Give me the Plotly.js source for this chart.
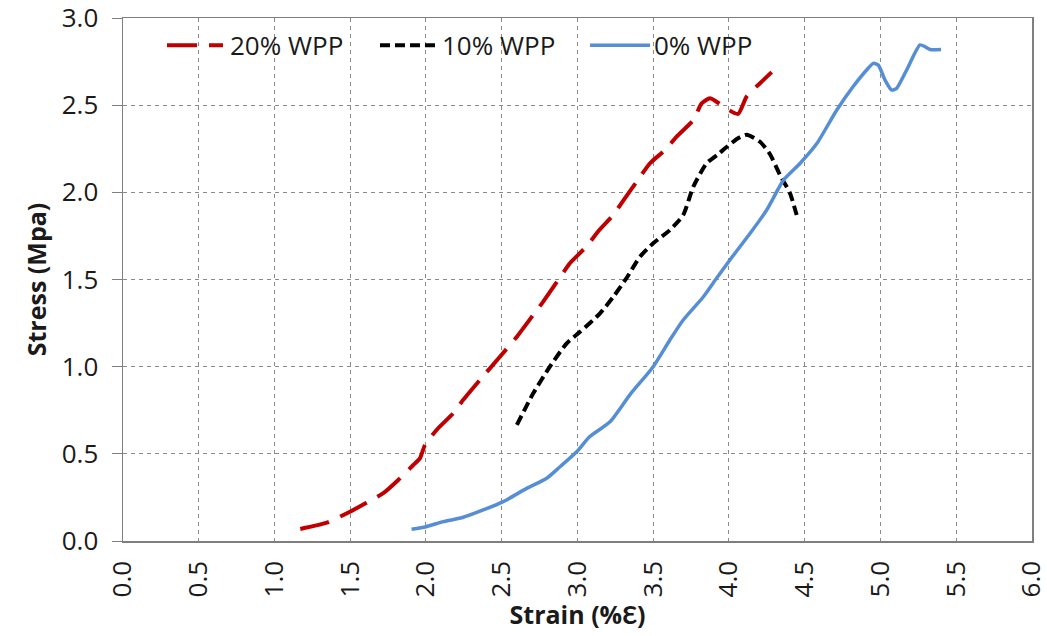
<!DOCTYPE html>
<html>
<head>
<meta charset="utf-8">
<script src="https://cdn.plot.ly/plotly-3.0.1.min.js"></script>
<style>html,body{margin:0;padding:0;background:#fff;}#chart{width:1047px;height:636px;}</style>
</head>
<body>
<div id="chart"></div>
<script>
// Series names
const seriesNames = ["20% WPP", "10% WPP", "0% WPP"];

// 20% WPP (red, long dash)
const strain20 = [1.17, 1.345, 1.498, 1.608, 1.718, 1.817, 1.916, 1.96, 1.993, 2.07, 2.18, 2.246, 2.356, 2.488, 2.6, 2.708, 2.774, 2.873, 2.95, 3.06, 3.14, 3.236, 3.30, 3.39, 3.479, 3.578, 3.655, 3.765, 3.82, 3.875, 3.918, 3.985, 4.06, 4.117, 4.205, 4.282];
const stress20 = [0.069, 0.105, 0.168, 0.22, 0.274, 0.35, 0.436, 0.474, 0.55, 0.637, 0.733, 0.81, 0.924, 1.057, 1.172, 1.297, 1.373, 1.497, 1.593, 1.69, 1.78, 1.87, 1.95, 2.06, 2.167, 2.243, 2.32, 2.415, 2.51, 2.54, 2.52, 2.48, 2.45, 2.55, 2.626, 2.69];

// 10% WPP (black, short dash)
const strain10 = [2.6, 2.708, 2.818, 2.929, 3.017, 3.149, 3.236, 3.325, 3.413, 3.5, 3.61, 3.698, 3.765, 3.853, 3.93, 3.985, 4.06, 4.117, 4.205, 4.27, 4.337, 4.403, 4.447];
const stress10 = [0.666, 0.847, 1.0, 1.134, 1.2, 1.306, 1.4, 1.51, 1.631, 1.708, 1.784, 1.87, 2.033, 2.167, 2.22, 2.26, 2.31, 2.33, 2.29, 2.22, 2.1, 1.995, 1.87];

// 0% WPP (blue, solid)
const strain0 = [1.905, 2.0, 2.115, 2.246, 2.378, 2.51, 2.665, 2.797, 2.885, 2.995, 3.08, 3.215, 3.347, 3.5, 3.61, 3.698, 3.83, 3.918, 4.006, 4.14, 4.25, 4.36, 4.47, 4.58, 4.71, 4.82, 4.909, 4.953, 4.986, 5.03, 5.074, 5.107, 5.173, 5.261, 5.294, 5.327, 5.40];
const stress0 = [0.067, 0.082, 0.111, 0.136, 0.178, 0.226, 0.302, 0.36, 0.426, 0.512, 0.598, 0.684, 0.84, 1.0, 1.153, 1.268, 1.4, 1.507, 1.612, 1.765, 1.9, 2.07, 2.167, 2.28, 2.47, 2.607, 2.702, 2.74, 2.73, 2.645, 2.587, 2.597, 2.702, 2.846, 2.836, 2.82, 2.82];

// Tick labels
const xTicks = [0.0, 0.5, 1.0, 1.5, 2.0, 2.5, 3.0, 3.5, 4.0, 4.5, 5.0, 5.5, 6.0];
const yTicks = [0.0, 0.5, 1.0, 1.5, 2.0, 2.5, 3.0];

const colors = ["#C00000", "#000000", "#558ED5"];
const dashes = ["30px,12px", "10px,5px", "solid"];
const widths = [4, 4, 3.5];

const xs = [strain20, strain10, strain0];
const ys = [stress20, stress10, stress0];

const traces = xs.map((x, i) => ({
  x: x, y: ys[i], name: seriesNames[i], type: "scatter", mode: "lines",
  line: {color: colors[i], width: widths[i], dash: dashes[i], shape: "spline", smoothing: 0.6},
  hoverinfo: "skip", cliponaxis: false
}));

const font = "Open Sans, Lato, sans-serif";

// custom legend
const legX0 = [0.0484, 0.2827, 0.5138];
const legX1 = [0.1100, 0.3443, 0.5798];
const legTextX = [0.1155, 0.3487, 0.5820];
const legY = 0.948;
const shapes = seriesNames.map((n, i) => ({
  type: "line", xref: "paper", yref: "paper",
  x0: legX0[i], x1: legX1[i], y0: legY, y1: legY,
  line: {color: colors[i], width: widths[i], dash: dashes[i]}
}));
const annotations = seriesNames.map((n, i) => ({
  text: n, xref: "paper", yref: "paper", x: legTextX[i], y: legY,
  xanchor: "left", yanchor: "middle", showarrow: false,
  font: {family: font, size: 26, color: "#1a1a1a"}
}));

const layout = {
  width: 1047, height: 636,
  margin: {l: 123, r: 15, t: 18, b: 95, pad: 0},
  paper_bgcolor: "#ffffff", plot_bgcolor: "#ffffff",
  showlegend: false,
  font: {family: font, color: "#1a1a1a"},
  xaxis: {
    range: [0, 6.0005], tickvals: xTicks, ticktext: xTicks.map(v => v.toFixed(1)),
    tickangle: -90, tickfont: {family: font, size: 26, color: "#1a1a1a"},
    ticklabeloverflow: "allow",
    showgrid: true, gridcolor: "#8a8a8a", griddash: "4px,4px", gridwidth: 1,
    showline: true, linecolor: "#7f7f7f", linewidth: 1.5, mirror: true,
    ticks: "", ticklabelstandoff: 8, zeroline: false,
    title: {text: "<b>Strain (%Ɛ)</b>", font: {family: font, size: 25, color: "#1a1a1a"}, standoff: 4}
  },
  yaxis: {
    range: [0, 3.0003], tickvals: yTicks, ticktext: yTicks.map(v => v.toFixed(1)),
    tickfont: {family: font, size: 26, color: "#1a1a1a"},
    ticklabeloverflow: "allow",
    showgrid: true, gridcolor: "#8a8a8a", griddash: "4px,4px", gridwidth: 1,
    showline: true, linecolor: "#7f7f7f", linewidth: 1.5, mirror: true,
    ticks: "outside", ticklen: 10, tickcolor: "#7f7f7f", ticklabelstandoff: 8, zeroline: false,
    title: {text: "<b>Stress (Mpa)</b>", font: {family: font, size: 25, color: "#1a1a1a"}, standoff: 8}
  },
  shapes: shapes,
  annotations: annotations
};

Plotly.newPlot("chart", traces, layout, {displayModeBar: false, staticPlot: true});
</script>
</body>
</html>
